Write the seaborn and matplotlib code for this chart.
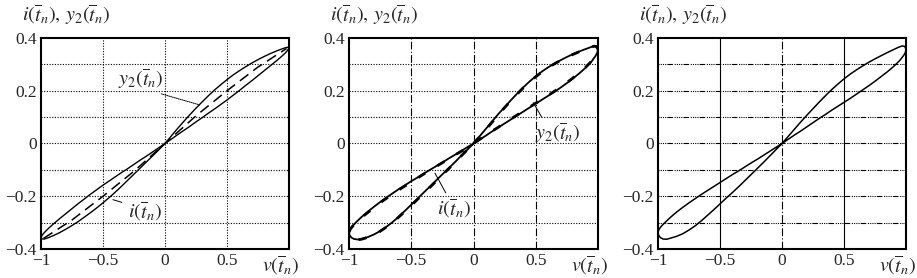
import matplotlib
matplotlib.use("Agg")
import matplotlib.pyplot as plt
import seaborn as sns

sns.set_style("white")
plt.rcParams['font.family'] = ['Liberation Serif', 'DejaVu Serif']
plt.rcParams['mathtext.fontset'] = 'stix'

# ---------------- data ----------------
# common v readings for the loop branches
v_out_pos = [0, 0.05, 0.1, 0.15, 0.2, 0.25, 0.3, 0.35, 0.4, 0.45, 0.5, 0.55, 0.6, 0.65, 0.7, 0.75,
             0.8, 0.85, 0.9, 0.94, 0.97, 0.99, 1.0]
v_back_pos = [0.995, 0.98, 0.95, 0.9, 0.85, 0.8, 0.75, 0.7, 0.65, 0.6, 0.55, 0.5, 0.45, 0.4, 0.35,
              0.3, 0.25, 0.2, 0.15, 0.1, 0.05, 0]
v_out_neg = [-0.05, -0.1, -0.15, -0.2, -0.25, -0.3, -0.35, -0.4, -0.45, -0.5, -0.55, -0.6, -0.65,
             -0.7, -0.75, -0.8, -0.85, -0.9, -0.94, -0.97, -0.99, -1.0]
v_back_neg = [-0.995, -0.98, -0.96, -0.93, -0.9, -0.85, -0.8, -0.75, -0.7, -0.65, -0.6, -0.55, -0.5,
              -0.45, -0.4, -0.35, -0.3, -0.25, -0.2, -0.15, -0.1, -0.05, 0]

# panel 1 (sharper tips)
v1_back_pos = [0.99, 0.97, 0.94, 0.9, 0.85, 0.8, 0.75, 0.7, 0.65, 0.6, 0.55, 0.5, 0.45, 0.4, 0.35,
               0.3, 0.25, 0.2, 0.15, 0.1, 0.05, 0]
v1_back_neg = [-0.99, -0.97, -0.94, -0.9, -0.85, -0.8, -0.75, -0.7, -0.65, -0.6, -0.55, -0.5, -0.45,
               -0.4, -0.35, -0.3, -0.25, -0.2, -0.15, -0.1, -0.05, 0]
i1_a = [0, 0.028, 0.056, 0.083, 0.109, 0.134, 0.158, 0.181, 0.203, 0.223, 0.242, 0.26, 0.276, 0.291,
        0.305, 0.318, 0.33, 0.341, 0.351, 0.358, 0.363, 0.365, 0.363]
i1_b = [0.354, 0.343, 0.33, 0.314, 0.295, 0.276, 0.257, 0.238, 0.22, 0.201, 0.183, 0.165, 0.148,
        0.131, 0.115, 0.098, 0.082, 0.065, 0.049, 0.033, 0.016, 0]
i1_c = [-0.016, -0.032, -0.048, -0.063, -0.079, -0.095, -0.11, -0.126, -0.142, -0.158, -0.175,
        -0.192, -0.21, -0.228, -0.247, -0.266, -0.285, -0.305, -0.322, -0.336, -0.347, -0.357]
i1_d = [-0.362, -0.362, -0.357, -0.349, -0.338, -0.325, -0.311, -0.296, -0.279, -0.262, -0.244,
        -0.225, -0.205, -0.184, -0.162, -0.139, -0.116, -0.093, -0.07, -0.047, -0.024, 0]
v1_model = [-0.98, -0.75, -0.5, -0.25, 0, 0.25, 0.5, 0.75, 0.98]
y2_1 = [-0.36, -0.29, -0.2, -0.105, 0, 0.105, 0.2, 0.29, 0.36]

# panel 2: measured loop and nearly coincident model
i2_a = [0, 0.028, 0.056, 0.084, 0.112, 0.138, 0.164, 0.189, 0.213, 0.235, 0.255, 0.273, 0.289, 0.303,
        0.316, 0.328, 0.339, 0.349, 0.358, 0.365, 0.37, 0.368, 0.358]
i2_b = [0.345, 0.332, 0.312, 0.287, 0.266, 0.247, 0.229, 0.212, 0.196, 0.181, 0.166, 0.151, 0.136,
        0.121, 0.106, 0.091, 0.076, 0.061, 0.046, 0.03, 0.015, 0]
i2_c = [-0.014, -0.029, -0.043, -0.057, -0.072, -0.086, -0.1, -0.114, -0.129, -0.143, -0.158, -0.173,
        -0.189, -0.205, -0.222, -0.24, -0.259, -0.279, -0.297, -0.312, -0.324, -0.336]
i2_d = [-0.348, -0.357, -0.362, -0.364, -0.362, -0.355, -0.345, -0.332, -0.316, -0.298, -0.277,
        -0.255, -0.232, -0.209, -0.186, -0.163, -0.14, -0.117, -0.094, -0.071, -0.047, -0.024, 0]
y2_2a = [0, 0.026, 0.053, 0.081, 0.109, 0.136, 0.162, 0.187, 0.211, 0.233, 0.253, 0.271, 0.288, 0.302,
         0.315, 0.327, 0.338, 0.348, 0.357, 0.364, 0.369, 0.367, 0.357]
y2_2b = [0.344, 0.331, 0.313, 0.289, 0.268, 0.249, 0.231, 0.214, 0.198, 0.183, 0.168, 0.153, 0.138,
         0.123, 0.108, 0.093, 0.078, 0.062, 0.047, 0.031, 0.016, 0]
y2_2c = [-0.015, -0.03, -0.044, -0.058, -0.073, -0.087, -0.101, -0.116, -0.131, -0.146, -0.161, -0.176,
         -0.192, -0.208, -0.225, -0.243, -0.262, -0.281, -0.299, -0.313, -0.325, -0.337]
y2_2d = [-0.349, -0.358, -0.363, -0.365, -0.363, -0.356, -0.346, -0.333, -0.317, -0.3, -0.279, -0.257,
         -0.235, -0.212, -0.189, -0.166, -0.143, -0.119, -0.096, -0.072, -0.048, -0.024, 0]

# panel 3: loop
i3_a = [0, 0.027, 0.054, 0.081, 0.107, 0.132, 0.157, 0.181, 0.204, 0.225, 0.245, 0.263, 0.279, 0.294,
        0.308, 0.321, 0.333, 0.345, 0.356, 0.365, 0.370, 0.368, 0.358]
i3_b = [0.345, 0.333, 0.315, 0.292, 0.272, 0.254, 0.236, 0.219, 0.203, 0.187, 0.171, 0.156, 0.141,
        0.126, 0.110, 0.095, 0.079, 0.063, 0.047, 0.032, 0.016, 0]
i3_c = [-0.015, -0.03, -0.045, -0.06, -0.074, -0.089, -0.104, -0.118, -0.133, -0.148, -0.163, -0.178,
        -0.193, -0.209, -0.225, -0.242, -0.26, -0.28, -0.298, -0.312, -0.324, -0.336]
i3_d = [-0.348, -0.357, -0.362, -0.363, -0.359, -0.352, -0.342, -0.328, -0.312, -0.293, -0.272,
        -0.251, -0.229, -0.207, -0.186, -0.164, -0.141, -0.118, -0.095, -0.072, -0.048, -0.024, 0]

xticks = [-1, -0.5, 0, 0.5]
xticklabels = ['\u22121', '\u22120.5', '0', '0.5']
yticks = [-0.4, -0.2, 0, 0.2, 0.4]
yticklabels = ['\u22120.4', '\u22120.2', '0', '0.2', '0.4']
hgrid = [-0.3, -0.2, -0.1, 0, 0.1, 0.2, 0.3]
vgrid = [-0.5, 0, 0.5]

ylab = r'$i(\overline{t}_n),\, y_2(\overline{t}_n)$'
xlab = r'$v(\overline{t}_n)$'
lab_y2 = r'$y_2(\overline{t}_n)$'
lab_i = r'$i(\overline{t}_n)$'

# assemble loops
v1 = v_out_pos + v1_back_pos + v_out_neg + v1_back_neg
i1 = i1_a + i1_b + i1_c + i1_d
v23 = v_out_pos + v_back_pos + v_out_neg + v_back_neg
i2 = i2_a + i2_b + i2_c + i2_d
y2_2 = y2_2a + y2_2b + y2_2c + y2_2d
i3 = i3_a + i3_b + i3_c + i3_d

# ---------------- figure ----------------
W, H = 917, 278
fig = plt.figure(figsize=(W / 100, H / 100), dpi=100)
lefts = [41, 349, 658]
widths = [248, 249, 248]
top_px, bot_px = 38, 249
axes = []
for l, w in zip(lefts, widths):
    ax = fig.add_axes([l / W, 1 - bot_px / H, w / W, (bot_px - top_px) / H])
    axes.append(ax)

dot = (0, (1, 1.4))
dashdot = (0, (7, 2, 1, 2))
hdd = (0, (1, 1, 1, 1, 1, 1, 1, 1, 5, 1.5))

for k, ax in enumerate(axes):
    ax.set_xlim(-1, 1)
    ax.set_ylim(-0.4, 0.4)
    for yv in hgrid:
        ax.axhline(yv, color='black', lw=0.8, ls=(dot if k < 2 else hdd), zorder=0.5)
    for xv in vgrid:
        if k == 0:
            ls = dot
        elif k == 1:
            ls = dashdot
        else:
            ls = '-' if xv != 0 else dashdot
        ax.axvline(xv, color='black', lw=0.8, ls=ls, zorder=0.5)
    ax.set_xticks(xticks)
    ax.set_xticklabels(xticklabels)
    ax.set_yticks(yticks)
    ax.set_yticklabels(yticklabels)
    ax.tick_params(length=0, labelsize=12.5, pad=3)
    for s in ax.spines.values():
        s.set_color('black')
        s.set_linewidth(1.5)
    ax.set_xlabel('')
    ax.set_ylabel('')
    ax.text(-0.075, 1.11, ylab, transform=ax.transAxes, fontsize=14.5, ha='left', va='center')
    ax.text(1.04, -0.075, xlab, transform=ax.transAxes, fontsize=14.5, ha='right', va='center')

# panel 1
ax = axes[0]
sns.lineplot(x=v1, y=i1, sort=False, estimator=None, color='black', lw=1.0, ax=ax)
sns.lineplot(x=v1_model, y=y2_1, sort=False, estimator=None, color='black', lw=1.1,
             linestyle=(0, (7, 4)), ax=ax)
ax.annotate(lab_y2, xy=(0.282, 0.146), xytext=(-0.38, 0.248), fontsize=14.5, ha='left', va='center',
            arrowprops=dict(arrowstyle='-', lw=0.7, ls=(0, (1, 1)), color='black',
                            shrinkA=0, shrinkB=0, relpos=(0.7, 0.0)))
ax.annotate(lab_i, xy=(-0.42, -0.213), xytext=(-0.3, -0.257), fontsize=14.5, ha='left', va='center',
            arrowprops=dict(arrowstyle='-', lw=0.7, color='black', shrinkA=2, shrinkB=0,
                            relpos=(0.0, 0.8)))

# panel 2
ax = axes[1]
sns.lineplot(x=v23, y=i2, sort=False, estimator=None, color='black', lw=1.3, ax=ax)
sns.lineplot(x=v23, y=y2_2, sort=False, estimator=None, color='black', lw=2.0,
             linestyle=(0, (3, 5)), ax=ax)
ax.annotate(lab_y2, xy=(0.48, 0.155), xytext=(0.49, 0.04), fontsize=14.5, ha='left', va='center',
            arrowprops=dict(arrowstyle='-', lw=0.7, color='black', shrinkA=0, shrinkB=0,
                            relpos=(0.2, 1.0)))
ax.annotate(lab_i, xy=(-0.31, -0.112), xytext=(-0.29, -0.245), fontsize=14.5, ha='left', va='center',
            arrowprops=dict(arrowstyle='-', lw=0.7, color='black', shrinkA=0, shrinkB=0,
                            relpos=(0.3, 1.0)))

# panel 3
ax = axes[2]
sns.lineplot(x=v23, y=i3, sort=False, estimator=None, color='black', lw=1.1, ax=ax)

fig.savefig('out.png', dpi=100)
